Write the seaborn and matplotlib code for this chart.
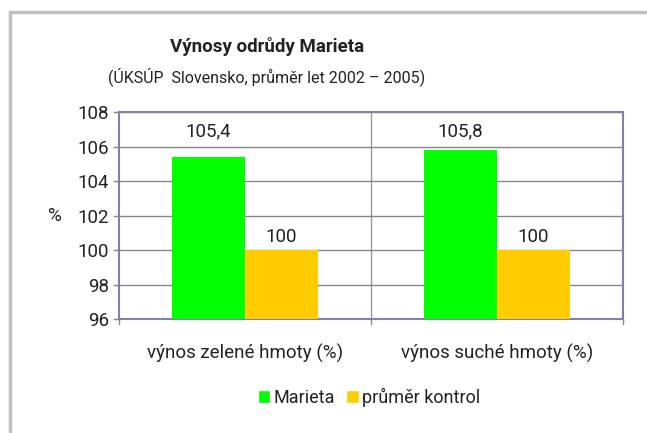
import pandas as pd
import matplotlib.pyplot as plt
import seaborn as sns
from matplotlib.patches import Rectangle

# data
categories = ['výnos zelené hmoty (%)', 'výnos suché hmoty (%)']
series = ['Marieta', 'průměr kontrol']
marieta = [105.4, 105.8]
kontrol = [100, 100]
labels_marieta = ['105,4', '105,8']
labels_kontrol = ['100', '100']
yticks = [96, 98, 100, 102, 104, 106, 108]

df = pd.DataFrame({
    'kategorie': categories * 2,
    'serie': [series[0]] * 2 + [series[1]] * 2,
    'hodnota': marieta + kontrol,
})

sns.set_theme(style='white')
plt.rcParams['font.family'] = ['Roboto', 'DejaVu Sans']
text_col = '#222222'
frame_col = '#8080a8'
fs = 13.5

fig = plt.figure(figsize=(6.47, 4.33), dpi=100)
ax = fig.add_axes([119 / 647, 1 - 319 / 433, (623 - 119) / 647, (319 - 112) / 433])

# gray outer frame of the chart
fig.patches.append(Rectangle((10 / 647, -0.1), 1.2, 1 - 12 / 433 + 0.1,
                             transform=fig.transFigure, fill=False,
                             edgecolor='#c0c0c0', linewidth=2.5))

sns.barplot(data=df, x='kategorie', y='hodnota', hue='serie', order=categories,
            hue_order=series, palette=['#00ff00', '#ffcc00'], width=0.58,
            gap=0, saturation=1, ax=ax, legend=False, zorder=3, linewidth=0)

ax.set_ylim(96, 108)
ax.set_yticks(yticks)
ax.set_yticklabels([str(t) for t in yticks], fontsize=fs, color=text_col)
ax.yaxis.grid(True, color='#888888', linewidth=1, zorder=0)
ax.set_xlim(-0.5, 1.5)
ax.axvline(0.5, color='#999999', linewidth=1, zorder=0)
ax.set_xticks([0, 1])
ax.set_xticklabels(categories, fontsize=fs, color=text_col)
ax.tick_params(axis='x', length=0, pad=18)
ax.tick_params(axis='y', length=4, width=1, color='#888888', pad=3, left=True)
# tick marks at the category boundaries under the axis
for xb in [-0.5, 0.5, 1.5]:
    ax.plot([xb, xb], [0, -0.025], transform=ax.get_xaxis_transform(),
            color='#888888', linewidth=1, clip_on=False)

for side in ['left', 'right', 'top', 'bottom']:
    ax.spines[side].set_color(frame_col)
    ax.spines[side].set_linewidth(1.5)
    ax.spines[side].set_visible(True)

ax.set_xlabel('')
ax.set_ylabel('%', fontsize=fs, color=text_col, rotation=0, labelpad=16, va='center')

# Marieta labels sit at a fixed height near the top of the plot (as in Excel)
for bar, lab in zip(ax.containers[0], labels_marieta):
    ax.text(bar.get_x() + bar.get_width() / 2, 106.85, lab, ha='center', va='center',
            fontsize=fs, color=text_col)
ax.bar_label(ax.containers[1], labels=labels_kontrol, padding=3, fontsize=fs, color=text_col)

fig.text(267 / 647, 1 - 47 / 433, 'Výnosy odrůdy Marieta', ha='center', va='center',
         fontsize=13.5, fontweight='bold', color=text_col)
fig.text(267 / 647, 1 - 77 / 433, '(ÚKSÚP  Slovensko, průměr let 2002 – 2005)',
         ha='center', va='center', fontsize=11.5, color=text_col)

handles = [Rectangle((0, 0), 1, 1, facecolor=c) for c in ['#00ff00', '#ffcc00']]
fig.legend(handles, series, loc='center', bbox_to_anchor=(369 / 647, 1 - 397 / 433),
           ncol=2, frameon=False, fontsize=13, handlelength=0.7, handleheight=0.7,
           handletextpad=0.2, columnspacing=0.6, labelcolor=text_col)

fig.savefig('out.png', dpi=100)
